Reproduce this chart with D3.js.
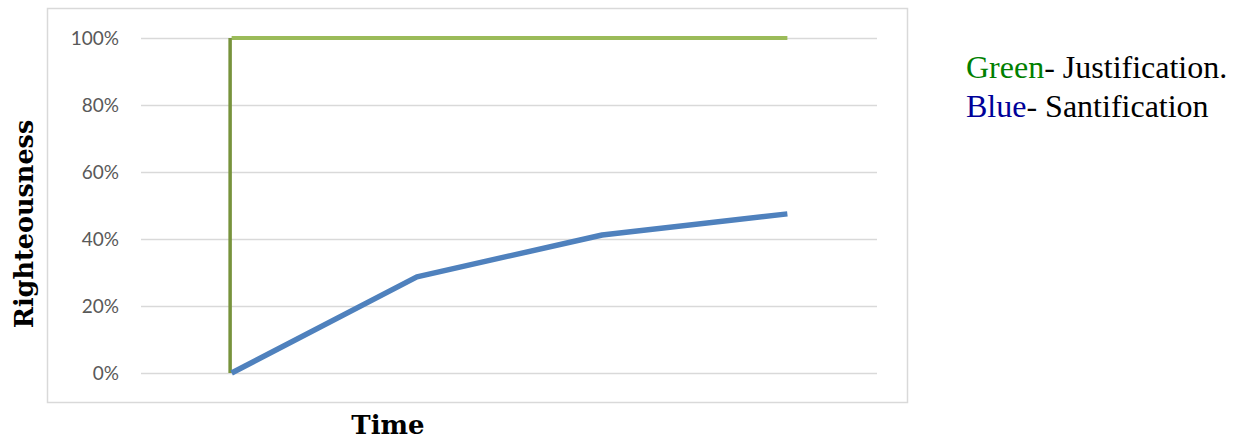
<!DOCTYPE html>
<html>
<head>
<meta charset="utf-8">
<script src="https://cdn.jsdelivr.net/npm/d3@7"></script>
<style>
  body { margin: 0; background: #fff; }
  svg { display: block; }
</style>
</head>
<body>
<svg width="1241" height="439"></svg>
<script>
var categories = ["t1", "t2", "t3", "t4"];
var sanctification = [0, 0.287, 0.412, 0.475];
var justificationRise = [{ x: "t1", y: 0 }, { x: "t1", y: 1 }];
var justification = [1, 1, 1, 1];
var yTicks = [0, 0.2, 0.4, 0.6, 0.8, 1];

var svg = d3.select("svg");

// chart frame
svg.append("rect")
  .attr("x", 47.5).attr("y", 8.5)
  .attr("width", 860).attr("height", 394)
  .attr("fill", "#fff")
  .attr("stroke", "#d9d9d9")
  .attr("stroke-width", 1.5);

var x = d3.scalePoint().domain(categories).range([139, 880]).padding(0.5);
var y = d3.scaleLinear().domain([0, 1]).range([373, 38]);

// gridlines + tick labels
var yAxis = d3.axisLeft(y)
  .tickValues(yTicks)
  .tickFormat(d3.format(".0%"))
  .tickSize(-(877 - 141))
  .tickPadding(22);

var g = svg.append("g").attr("transform", "translate(141,0)").call(yAxis);
g.select(".domain").remove();
g.selectAll(".tick line").attr("stroke", "#d9d9d9").attr("stroke-width", 1.5);
g.selectAll(".tick text")
  .attr("fill", "#595959")
  .style("font-family", "Lato, 'Open Sans', sans-serif")
  .style("font-size", "19px");

// lines
var line = d3.line()
  .x(function (d, i) { return x(categories[i]); })
  .y(function (d) { return y(d); });

svg.append("path")
  .datum(justification)
  .attr("d", line)
  .attr("fill", "none")
  .attr("stroke", "#9bbb59")
  .attr("stroke-width", 4);

svg.append("path")
  .datum(justificationRise)
  .attr("d", d3.line()
    .x(function (d) { return x(d.x) - 1.5; })
    .y(function (d) { return y(d.y); }))
  .attr("fill", "none")
  .attr("stroke", "#77933c")
  .attr("stroke-width", 3.5);

svg.append("path")
  .datum(sanctification)
  .attr("d", line)
  .attr("fill", "none")
  .attr("stroke", "#4f81bd")
  .attr("stroke-width", 5.5)
  .attr("stroke-linejoin", "round");

// axis titles
svg.append("text")
  .attr("transform", "translate(33,224) rotate(-90)")
  .attr("text-anchor", "middle")
  .style("font-family", "'DejaVu Serif', serif")
  .style("font-weight", "bold")
  .style("font-size", "25.5px")
  .text("Righteousness");

svg.append("text")
  .attr("x", 388).attr("y", 434)
  .attr("text-anchor", "middle")
  .style("font-family", "'DejaVu Serif', serif")
  .style("font-weight", "bold")
  .style("font-size", "26px")
  .text("Time");

// legend text
var legend = [
  { key: "Green", color: "#008000", rest: "- Justification.", y: 78 },
  { key: "Blue", color: "#000099", rest: "- Santification", y: 117 }
];
legend.forEach(function (d) {
  var t = svg.append("text")
    .attr("x", 966).attr("y", d.y)
    .style("font-family", "'Liberation Serif', serif")
    .style("font-size", "32px");
  t.append("tspan").attr("fill", d.color).text(d.key);
  t.append("tspan").attr("fill", "#000").text(d.rest);
});
</script>
</body>
</html>
